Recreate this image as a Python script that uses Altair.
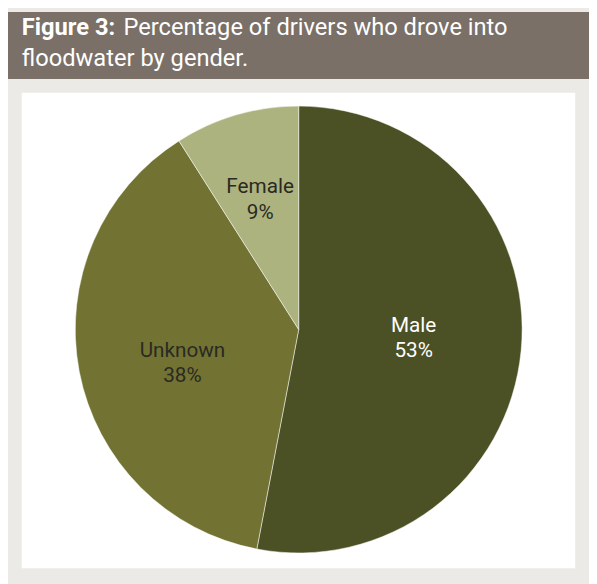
import altair as alt
import pandas as pd

genders = ["Male", "Unknown", "Female"]
percentages = [53, 38, 9]
slice_order = [0, 1, 2]
label_colors = ["#ffffff", "#2a2a22", "#2a2a22"]
slice_colors = ["#4b5125", "#727333", "#adb37f"]

df = pd.DataFrame({"gender": genders, "pct": percentages, "ord": slice_order, "lc": label_colors})

W, H = 589, 576
CX, CY, R = 294.7, 322, 226.5

title_bar = alt.Chart(pd.DataFrame({"a": [0]})).mark_rect(color="#7a7067").encode(
    x=alt.value(0), x2=alt.value(W), y=alt.value(0), y2=alt.value(68)
)
panel = alt.Chart(pd.DataFrame({"a": [0]})).mark_rect(color="#ffffff").encode(
    x=alt.value(14), x2=alt.value(575), y=alt.value(82), y2=alt.value(564)
)

t1 = alt.Chart(pd.DataFrame({"t": ["Figure 3:"]})).mark_text(
    font="Roboto", fontSize=24, fontWeight="bold", color="#ffffff", align="left", baseline="alphabetic"
).encode(x=alt.value(14), y=alt.value(23), text="t:N")
t2 = alt.Chart(pd.DataFrame({"t": ["Percentage of drivers who drove into"]})).mark_text(
    font="Roboto", fontSize=24, color="#ffffff", align="left", baseline="alphabetic"
).encode(x=alt.value(117), y=alt.value(23), text="t:N")
t3 = alt.Chart(pd.DataFrame({"t": ["floodwater by gender."]})).mark_text(
    font="Roboto", fontSize=24, color="#ffffff", align="left", baseline="alphabetic"
).encode(x=alt.value(14), y=alt.value(55), text="t:N")

base = alt.Chart(df).encode(
    theta=alt.Theta("pct:Q", stack=True),
    order=alt.Order("ord:Q"),
)

pie = base.mark_arc(radius=R, stroke="#ffffff", strokeWidth=0.5).encode(
    color=alt.Color("gender:N", scale=alt.Scale(domain=genders, range=slice_colors), legend=None),
    x=alt.value(CX), y=alt.value(CY),
)


def label_layer(name, radius, dy):
    return base.transform_calculate(
        label=f"datum.gender == '{name}' ? datum.gender + '\\n' + datum.pct + '%' : ''"
    ).mark_text(
        radius=radius, dy=dy, font="Roboto", fontSize=21, lineBreak="\n", lineHeight=26,
        baseline="middle", align="center"
    ).encode(text="label:N", color=alt.Color("lc:N", scale=None), x=alt.value(CX), y=alt.value(CY))


labels = [label_layer("Male", 117, -15), label_layer("Unknown", 120, -1), label_layer("Female", 140, -10)]

chart = alt.layer(title_bar, panel, t1, t2, t3, pie, *labels).properties(
    width=W, height=H, padding=0, autosize=alt.AutoSizeParams(type="none"), background="#ebeae6"
).configure_view(stroke=None)

chart.save("out.html", embed_options={"renderer": "svg", "actions": False})
